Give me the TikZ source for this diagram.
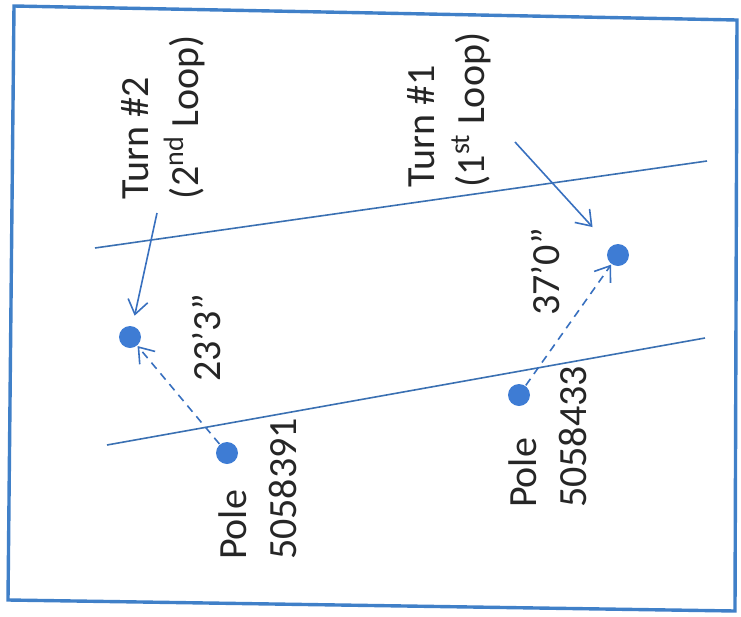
\documentclass[tikz,border=0pt]{standalone}
\usepackage{fontspec}
\setmainfont{Carlito}
\usetikzlibrary{arrows.meta}
\definecolor{lineblue}{RGB}{58,112,178}
\definecolor{dotblue}{RGB}{62,124,212}
\definecolor{frameblue}{RGB}{64,128,200}
\begin{document}
\begin{tikzpicture}[x=0.5pt, y=-0.5pt, thick,
    dot/.style = {circle, fill=dotblue, inner sep=0pt, minimum size=11pt},
    lbl/.style = {rotate=90, align=left, font=\fontsize{20}{25}\selectfont, inner sep=0pt, text=black!85},
    road/.style = {draw=lineblue, line width=0.8pt},
    pointer/.style = {draw=dotblue!90!black, line width=0.8pt, -{Straight Barb[length=7pt, width=10pt]}},
    measure/.style = {pointer, dash pattern=on 4pt off 3pt}]
        \useasboundingbox (0,0) rectangle (741,617);
        \draw[frameblue, line width=1.7pt] (14,6) -- (737,20) -- (735,611) -- (8,600) -- cycle;
        % road edges
        \draw[road] (95,248) -- (707,161);
        \draw[road] (107,445) -- (705,338);
        % poles and turns
        \node[dot] (t2) at (130,337) {};
        \node[dot] (p1) at (227,453) {};
        \node[dot] (t1) at (618,255) {};
        \node[dot] (p2) at (519,395) {};
        % labels
        \node[lbl] (l2) at (163,117) {Turn \#2\\(2\textsuperscript{nd} Loop)};
        \node[lbl] (l1) at (449,110) {Turn \#1\\(1\textsuperscript{st} Loop)};
        \node[lbl] (d2) at (207,338) {23’3”};
        \node[lbl] (d1) at (546,272) {37’0”};
        \node[lbl] (n1) at (258,489) {Pole\\5058391};
        \node[lbl] (n2) at (548,437) {Pole\\5058433};
        \coordinate (a2) at (157,213);
        \coordinate (a1) at (515,142);
        \draw[pointer, shorten >=5pt] (a2) -- (t2);
        \draw[pointer, shorten >=13pt] (a1) -- (t1);
        \draw[measure] (p1) -- (t2);
        \draw[measure] (p2) -- (t1);
\end{tikzpicture}
\end{document}
